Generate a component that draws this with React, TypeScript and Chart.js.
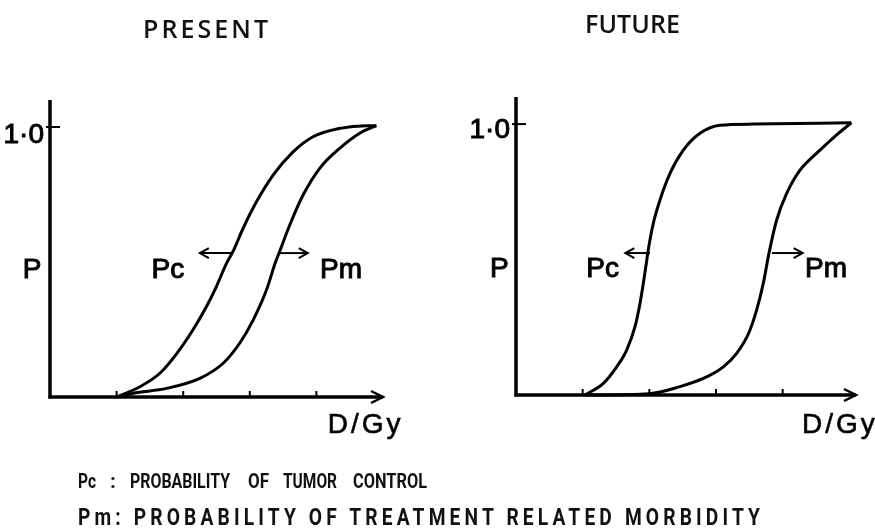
import React, { useEffect, useRef } from "react";
import { Chart, registerables } from "chart.js";
Chart.register(...registerables);

// ---- data (dose in arbitrary units, probability 0..1) ----
const doseTicks = [1, 2, 3, 4];

const presentPcDose = [1.0, 1.35, 1.65, 1.9, 2.15, 2.35, 2.5, 2.65, 2.75, 2.9, 3.1, 3.35, 3.65, 3.95, 4.35, 4.75, 4.9];
const presentPc = [0, 0.038, 0.088, 0.16, 0.25, 0.335, 0.41, 0.495, 0.54, 0.625, 0.723, 0.822, 0.908, 0.964, 0.995, 1.005, 1.005];
const presentPmDose = [1.0, 1.25, 1.75, 2.25, 2.6, 2.85, 3.05, 3.25, 3.38, 3.45, 3.6, 3.8, 4.05, 4.35, 4.65, 4.9];
const presentPm = [0, 0.014, 0.032, 0.069, 0.125, 0.2, 0.285, 0.396, 0.495, 0.54, 0.637, 0.748, 0.847, 0.921, 0.977, 1.005];

const futurePcDose = [1.035, 1.31, 1.51, 1.66, 1.785, 1.86, 1.91, 1.955, 1.98, 2.06, 2.16, 2.31, 2.51, 2.76, 3.06, 3.56, 5.03];
const futurePc = [0, 0.043, 0.104, 0.166, 0.252, 0.338, 0.412, 0.486, 0.53, 0.634, 0.72, 0.818, 0.904, 0.966, 0.996, 1.0, 1.005];
const futurePmDose = [1.035, 2.0, 2.46, 2.81, 3.11, 3.31, 3.49, 3.61, 3.71, 3.8, 3.91, 4.06, 4.26, 4.56, 4.81, 5.03];
const futurePm = [0, 0.005, 0.031, 0.061, 0.104, 0.154, 0.228, 0.314, 0.413, 0.53, 0.646, 0.744, 0.83, 0.904, 0.96, 1.005];

const titles = ["PRESENT", "FUTURE"];
const footnote1Words = ["Pc", ":", "PROBABILITY", "OF", "TUMOR", "CONTROL"];
const footnote2 = "Pm: PROBABILITY OF TREATMENT RELATED MORBIDITY";

// layout of the first footnote's words (x start, width in px)
const foot1Layout: [number, number][] = [[78, 18], [110, 0], [130, 100], [248, 21], [283, 54], [353, 74]];

type Panel = {
  pcDose: number[];
  pc: number[];
  pmDose: number[];
  pm: number[];
  xMax: number;
  left: number;
  width: number;
  padding: { left: number; right: number; top: number; bottom: number };
  pcArrow: [number, number];
  pmArrow: [number, number];
  arrowY: number;
  pLabelX: number;
  pcLabelX: number;
  pmLabelX: number;
  labelBaseY: number;
  oneBaseY: number;
  dgyX: number;
  dgyY: number;
};

const panels: Panel[] = [
  {
    pcDose: presentPcDose, pc: presentPc, pmDose: presentPmDose, pm: presentPm,
    xMax: 5.0, left: 0, width: 430,
    padding: { left: 50, right: 47, top: 40, bottom: 53 },
    pcArrow: [2.73, 2.25], pmArrow: [3.42, 3.87], arrowY: 0.533,
    pLabelX: -0.27, pcLabelX: 1.77, pmLabelX: 4.37, labelBaseY: 0.44, oneBaseY: 0.94,
    dgyX: 4.17, dgyY: -0.133,
  },
  {
    pcDose: futurePcDose, pc: futurePc, pmDose: futurePmDose, pm: futurePm,
    xMax: 5.1, left: 430, width: 445,
    padding: { left: 86, right: 19, top: 37, bottom: 55 },
    pcArrow: [2.01, 1.64], pmArrow: [3.84, 4.3], arrowY: 0.524,
    pLabelX: -0.25, pcLabelX: 1.3, pmLabelX: 4.65, labelBaseY: 0.435, oneBaseY: 0.948,
    dgyX: 4.29, dgyY: -0.14,
  },
];

const HAND_FONT = "'Liberation Sans', 'DejaVu Sans', sans-serif";

function makePlugin(p: Panel) {
  return {
    id: "handAxes",
    afterDatasetsDraw(chart: any) {
      const { ctx, scales } = chart;
      const xs = scales.x, ys = scales.y;
      const X = (v: number) => xs.getPixelForValue(v);
      const Y = (v: number) => ys.getPixelForValue(v);
      const line = (a: number, b: number, c: number, d: number) => {
        ctx.beginPath(); ctx.moveTo(a, b); ctx.lineTo(c, d); ctx.stroke();
      };
      ctx.save();
      ctx.strokeStyle = "#000";
      ctx.fillStyle = "#000";
      ctx.lineCap = "butt";
      const x0 = X(0), y0 = Y(0), xEnd = X(p.xMax), yTop = Y(1.1);
      // axes
      ctx.lineWidth = 3.5;
      line(x0, y0 + 1.5, x0, yTop);
      line(x0 - 1.5, y0, xEnd, y0);
      ctx.lineWidth = 2.5;
      ctx.lineJoin = "miter";
      ctx.beginPath();
      ctx.moveTo(xEnd - 12, y0 - 6);
      ctx.lineTo(xEnd, y0);
      ctx.lineTo(xEnd - 12, y0 + 6);
      ctx.stroke();
      // tick at 1.0
      ctx.lineWidth = 2;
      line(x0 - 4, Y(1), x0 + 10, Y(1));
      // dose ticks
      doseTicks.forEach((t) => line(X(t), y0, X(t), y0 - 6));
      // annotation arrows
      const arrow = (from: number, to: number) => {
        const ay = Y(p.arrowY), a = X(from), b = X(to);
        const dir = b > a ? 1 : -1;
        ctx.lineWidth = 2;
        line(a, ay, b, ay);
        ctx.beginPath();
        ctx.moveTo(b - dir * 9, ay - 5);
        ctx.lineTo(b, ay);
        ctx.lineTo(b - dir * 9, ay + 5);
        ctx.stroke();
      };
      arrow(p.pcArrow[0], p.pcArrow[1]);
      arrow(p.pmArrow[0], p.pmArrow[1]);
      // labels (hand-lettered look: regular glyphs, slightly thickened)
      const label = (t: string, x: number, y: number) => {
        ctx.lineWidth = 1;
        ctx.fillText(t, x, y);
        ctx.strokeText(t, x, y);
      };
      ctx.font = `28px ${HAND_FONT}`;
      ctx.textBaseline = "alphabetic";
      ctx.textAlign = "right";
      label("1·0", x0 - 6, Y(p.oneBaseY));
      ctx.textAlign = "center";
      label("P", X(p.pLabelX), Y(p.labelBaseY));
      label("Pc", X(p.pcLabelX), Y(p.labelBaseY));
      label("Pm", X(p.pmLabelX), Y(p.labelBaseY));
      ctx.textAlign = "left";
      ctx.font = `28px ${HAND_FONT}`;
      try { (ctx as any).letterSpacing = "3px"; } catch (e) {}
      ctx.lineWidth = 0.6;
      ctx.fillText("D/Gy", X(p.dgyX), Y(p.dgyY));
      ctx.strokeText("D/Gy", X(p.dgyX), Y(p.dgyY));
      try { (ctx as any).letterSpacing = "0px"; } catch (e) {}
      ctx.restore();
    },
  };
}

function PanelChart({ p }: { p: Panel }) {
  const ref = useRef<HTMLCanvasElement | null>(null);
  useEffect(() => {
    if (!ref.current) return;
    const ds = (xs: number[], ys: number[]) => ({
      data: xs.map((x, i) => ({ x, y: ys[i] })),
      borderColor: "#000",
      borderWidth: 3,
      pointRadius: 0,
      cubicInterpolationMode: "monotone" as const,
      fill: false,
      clip: false as any,
    });
    const chart = new Chart(ref.current, {
      type: "line",
      data: { datasets: [ds(p.pcDose, p.pc), ds(p.pmDose, p.pm)] },
      options: {
        animation: false,
        responsive: false,
        events: [],
        layout: { padding: p.padding },
        scales: {
          x: { type: "linear", min: 0, max: p.xMax, display: false },
          y: { type: "linear", min: 0, max: 1.1, display: false },
        },
        plugins: { legend: { display: false }, tooltip: { enabled: false } },
      },
      plugins: [makePlugin(p)],
    });
    return () => chart.destroy();
  }, [p]);
  return (
    <canvas
      ref={ref}
      width={p.width}
      height={390}
      style={{ position: "absolute", left: p.left, top: 60, width: p.width, height: 390 }}
    />
  );
}

export default function App() {
  const titleFont = { fontFamily: "'Open Sans', sans-serif", fontWeight: 600, fontSize: 25, fill: "#111" };
  const footFont = { fontFamily: "Roboto, 'Liberation Sans', sans-serif", fontWeight: 700, fill: "#111", whiteSpace: "pre" as const };
  const sq2 = 0.8;
  return (
    <div style={{ position: "absolute", left: 0, top: 0, width: 875, height: 528, background: "#fff", overflow: "hidden" }}>
      {panels.map((p, i) => (
        <PanelChart key={i} p={p} />
      ))}
      <svg width={875} height={528} style={{ position: "absolute", left: 0, top: 0, pointerEvents: "none" }}>
        <text x={143} y={38} textLength={125} lengthAdjust="spacing" style={titleFont}>{titles[0]}</text>
        <text x={585} y={33} textLength={95} lengthAdjust="spacing" style={titleFont}>{titles[1]}</text>
        {footnote1Words.map((w, i) => {
          const [x, wd] = foot1Layout[i];
          return wd > 0 ? (
            <text key={i} x={x} y={488} textLength={wd} lengthAdjust="spacingAndGlyphs" style={{ ...footFont, fontSize: 21 }}>{w}</text>
          ) : (
            <text key={i} x={x} y={488} style={{ ...footFont, fontSize: 21 }}>{w}</text>
          );
        })}
        <g transform={`translate(78,525) scale(${sq2},1)`}>
          <text x={0} y={0} textLength={682 / sq2} lengthAdjust="spacing" style={{ ...footFont, fontSize: 24 }}>{footnote2}</text>
        </g>
      </svg>
    </div>
  );
}
